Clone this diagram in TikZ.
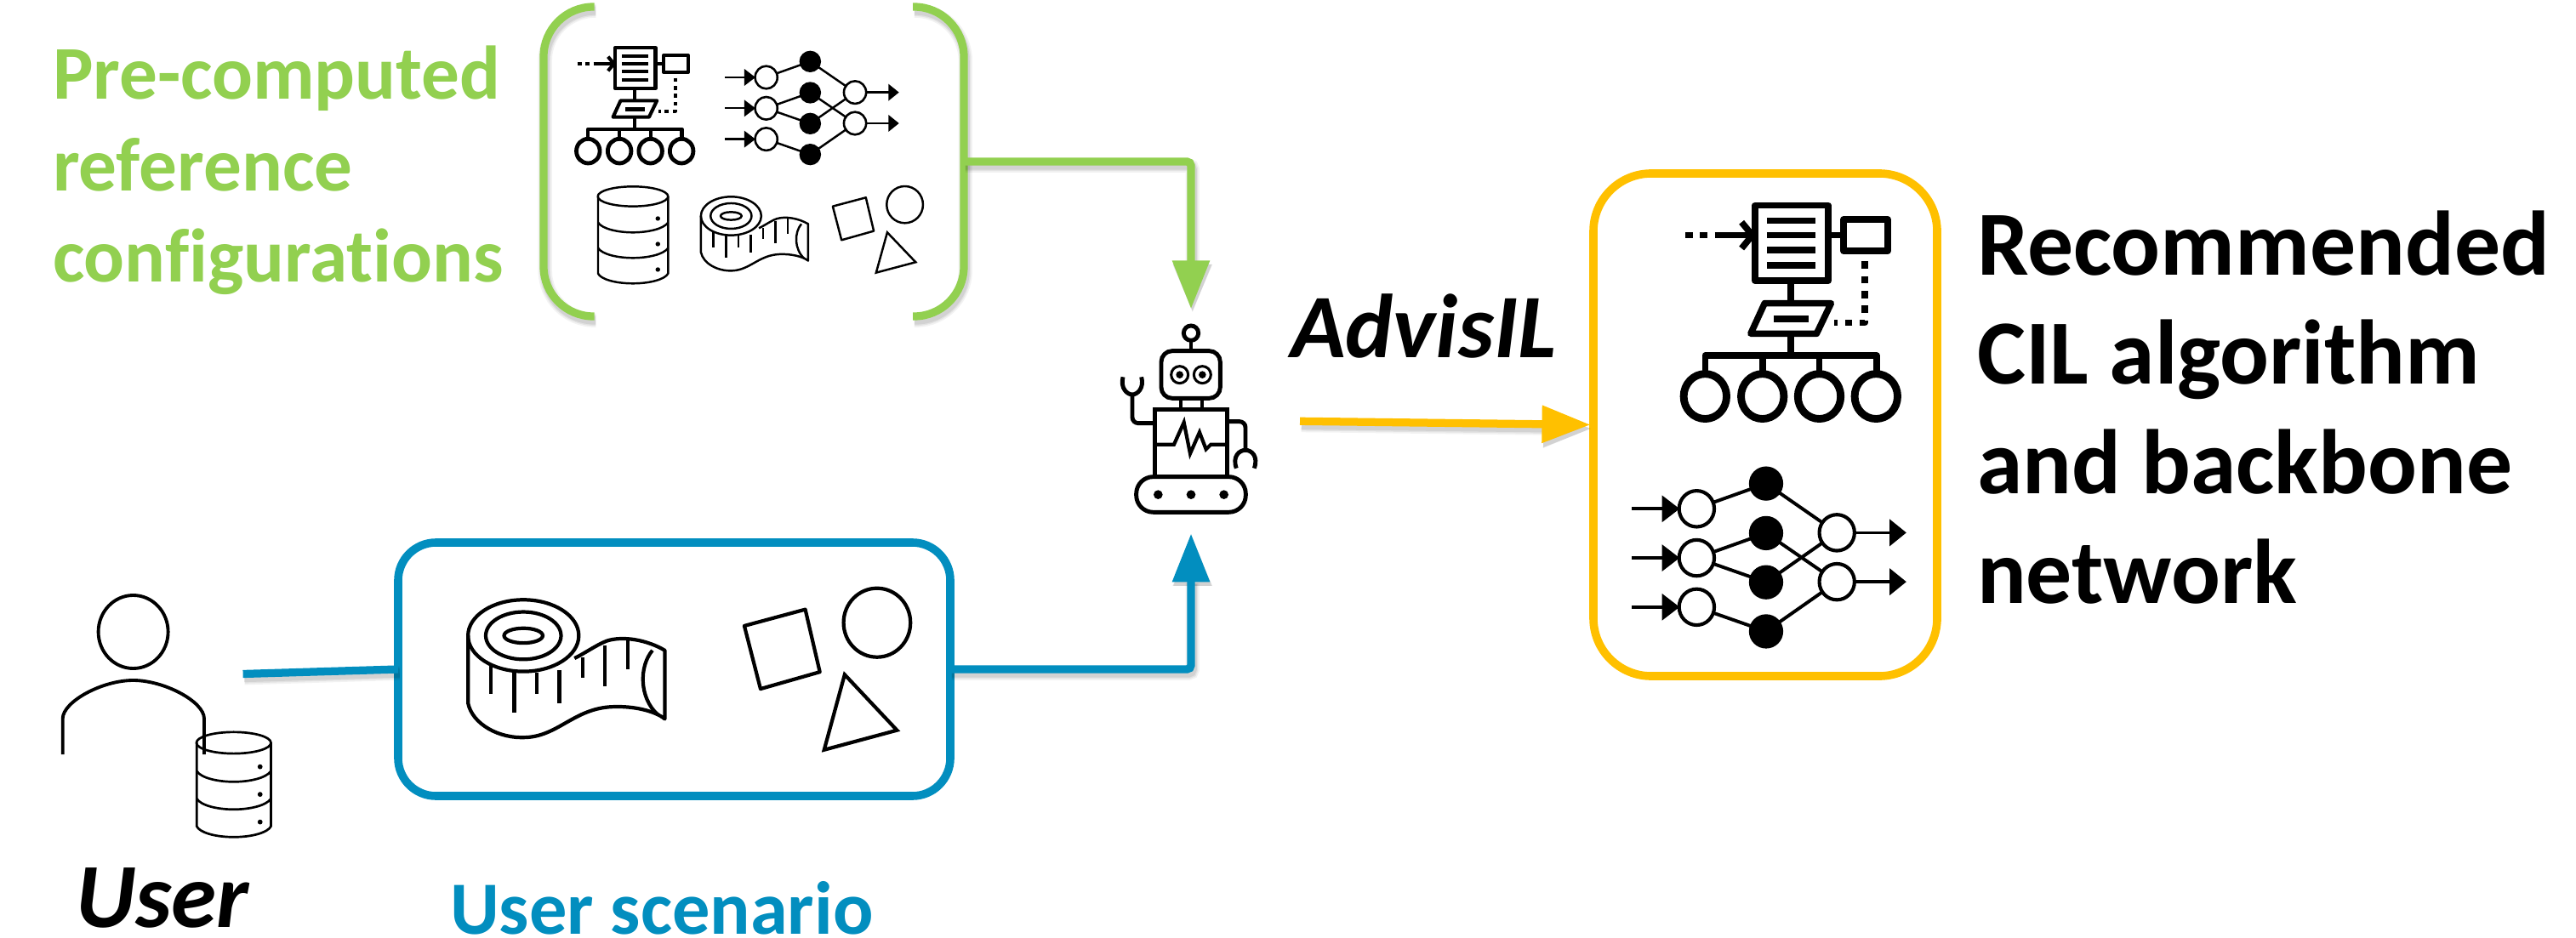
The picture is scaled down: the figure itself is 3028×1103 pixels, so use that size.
\documentclass[tikz,border=0pt]{standalone}
\usepackage{fontspec}
\setmainfont[Ligatures=NoCommon]{Carlito}
\usetikzlibrary{arrows.meta}
\definecolor{cgreen}{HTML}{92D050}
\definecolor{cblue}{HTML}{028EBF}
\definecolor{cyellow}{HTML}{FFC000}
\tikzset{
  softsh/.style={
    preaction={draw=black,opacity=.05,line width=14pt,transform canvas={xshift=1.5pt,yshift=-4pt}},
    preaction={draw=black,opacity=.06,line width=11pt,transform canvas={xshift=1.5pt,yshift=-4pt}},
    preaction={draw=black,opacity=.07,line width=8.5pt,transform canvas={xshift=1.5pt,yshift=-4pt}}},
  conn/.style={line width=7.9pt,softsh,rounded corners=4pt,
    -{Triangle[length=1.71cm,width=1.26cm]}},
  anchorbox/.style={inner sep=0pt,outer sep=0pt,rectangle},
  framebox/.style={anchorbox,draw,line width=8.2pt},
  lab/.style={inner sep=0pt,outer sep=0pt,anchor=base west,align=left},
  iconline/.style={line cap=butt,line join=round}
}
% tree icon, coordinates of a 1568 wide crop; #1 = line factor
\newcommand\treeicon[1]{
  \begin{scope}[iconline,line width=#1*3.5pt]
  \draw (300,168) rectangle (437,312);
  \foreach \yy in {197,225,253,282} \draw (322,\yy) -- (413,\yy);
  \draw (465,195) rectangle (548,255);
  \draw (437,225) -- (465,225);
  \draw (170,225) -- (185,225) (197,225) -- (212,225) (225,225) -- (295,225);
  \draw (275,200) -- (295,225) -- (275,250);
  \draw[dash pattern=on #1*4pt off #1*4pt] (505,275) -- (505,392) -- (448,392);
  \draw (367,312) -- (367,355);
  \draw (318,355) -- (442,355) -- (415,413) -- (292,413) -- cycle;
  \draw[line width=#1*4pt] (335,385) -- (400,385);
  \draw (367,413) -- (367,455);
  \draw (207,490) -- (207,455) -- (527,455) -- (527,490);
  \draw (314,455) -- (314,490) (420,455) -- (420,490);
  \begin{scope}[line width=#1*4.1pt]
  \foreach \xx in {207,314,420,526} \draw (\xx,533) ellipse [x radius=40,y radius=43];
  \end{scope}
  \end{scope}
}
\newcommand\neticon[1]{
  \begin{scope}[iconline,line width=#1*2.1pt]
  \draw (815,272) -- (965,217) -- (1118,326) (815,382) -- (965,327) -- (1118,435)
        (815,382) -- (965,436) -- (1118,326) (815,491) -- (965,545) -- (1118,435);
  \foreach \yy in {273,382,491} {
    \draw[line width=#1*2pt] (675,\yy) -- (742,\yy);
    \fill (740,\yy-30) -- (778,\yy) -- (740,\yy+30) -- cycle;
    \draw[fill=white,line width=#1*2.2pt] (815,\yy) ellipse [x radius=38,y radius=40];
  }
  \foreach \yy in {217,327,436,545} \fill (965,\yy) ellipse [x radius=37,y radius=38];
  \foreach \yy in {326,435} {
    \draw[line width=#1*2pt] (1150,\yy) -- (1234,\yy);
    \fill (1232,\yy-30) -- (1268,\yy) -- (1232,\yy+30) -- cycle;
    \draw[fill=white,line width=#1*2.2pt] (1118,\yy) ellipse [x radius=38,y radius=40];
  }
  \end{scope}
}
\newcommand\dbicon[1]{
  \begin{scope}[iconline,line width=#1]
  \draw (360,693) ellipse [x radius=120,y radius=35];
  \draw (241,693) -- (241,965) .. controls (250,985) and (300,1000) .. (360,1000)
        .. controls (420,1000) and (470,985) .. (480,965) -- (480,693);
  \draw (241,785) .. controls (255,808) and (310,820) .. (360,820) .. controls (410,820) and (465,808) .. (480,785);
  \draw (241,875) .. controls (255,898) and (310,910) .. (360,910) .. controls (410,910) and (465,898) .. (480,875);
  \foreach \yy in {771,861,951} \fill (445,\yy) ellipse [x radius=8,y radius=8];
  \end{scope}
}
\newcommand\tapeicon[1]{
  \begin{scope}[iconline,line width=#1]
  \draw (695,762) ellipse [x radius=103,y radius=68];
  \draw (695,762) ellipse [x radius=70,y radius=45];
  \draw (695,762) ellipse [x radius=36,y radius=14];
  \draw (592,762) -- (592,890) .. controls (600,930) and (650,958) .. (700,955)
     .. controls (760,952) and (790,900) .. (860,897) .. controls (900,895) and (940,905) .. (958,920)
     -- (958,790) .. controls (925,770) and (880,762) .. (850,772) .. controls (830,780) and (810,795) .. (790,805);
  \draw (935,790) .. controls (910,820) and (910,880) .. (945,912);
  \draw (635,815) -- (635,872) (678,828) -- (678,908) (720,832) -- (720,872) (762,828) -- (762,890)
        (805,803) -- (805,842) (847,780) -- (847,858) (889,770) -- (889,825);
  \end{scope}
}
\newcommand\shapeicon[1]{
  \begin{scope}[iconline,line width=#1]
  \draw (1042,728) -- (1155,697) -- (1182,815) -- (1072,847) -- cycle;
  \draw (1288,722) ellipse [x radius=62,y radius=65];
  \draw[line join=miter] (1228,820) -- (1325,925) -- (1190,962) -- cycle;
  \end{scope}
}
\begin{document}
\begin{tikzpicture}[x=0.03cm,y=-0.03cm]
\useasboundingbox (0,0) rectangle (3028,1103);
\fill[white] (0,0) rectangle (3028,1103);

% invisible and visible frames
\node[anchorbox,minimum width=14.82cm,minimum height=10.92cm] (greenbox) at (886,190) {};
\node[framebox,draw=cblue,rounded corners=38pt,minimum width=19.47cm,minimum height=8.94cm] (bluebox) at (792.5,787) {};
\node[framebox,draw=cyellow,rounded corners=58pt,minimum width=12.12cm,minimum height=17.73cm] (yellowbox) at (2075,499.5) {};
\node[anchorbox,minimum width=7.68cm,minimum height=7.92cm] (robot) at (1400,495.3) {};
\coordinate (userhand) at (285.6,792.5);

% green brackets
\draw[draw=cgreen,softsh,line width=7.9pt,rounded corners=50pt] (698.5,8) -- (639,8) -- (639,372) -- (698.5,372);
\draw[draw=cgreen,softsh,line width=7.9pt,rounded corners=50pt] (1073,8) -- (1133,8) -- (1133,372) -- (1073,372);

% connectors
\draw[conn,draw=cgreen] (greenbox.east) -| (robot.north);
\draw[line width=7.9pt,softsh,draw=cblue] (userhand) -- (bluebox.west);
\draw[conn,draw=cblue] (bluebox.east) -| (robot.south);
\draw[conn,draw=cyellow,shorten >=3pt] (robot.east) -- (yellowbox.west);

% icons in the green frame
\begin{scope}[shift={(620,0)},xscale=.3444,yscale=.3333]
\treeicon{1}\neticon{1}\dbicon{2.1pt}\tapeicon{2.1pt}\shapeicon{2.1pt}
\end{scope}
% icons in the yellow frame
\begin{scope}[shift={(1873.9,138.3)},xscale=.63,yscale=.615]
\treeicon{1.85}
\end{scope}
\begin{scope}[shift={(1551,453.6)},xscale=.544,yscale=.53]
\neticon{1.6}
\end{scope}
% icons in the blue frame
\begin{scope}[shift={(176,275)},xscale=.632,yscale=.62]
\tapeicon{3.6pt}
\end{scope}
\begin{scope}[shift={(214.3,282.4)},xscale=.634,yscale=.623]
\shapeicon{3.6pt}
\end{scope}
% user
\draw[line width=3.3pt] (156.6,743) ellipse [x radius=41,y radius=43];
\draw[line width=3.3pt] (73.7,887) -- (73.7,845) .. controls (74,825) and (120,800) .. (156.6,800)
   .. controls (193,800) and (240,825) .. (240,845) -- (240,887);
\begin{scope}[shift={(143.3,623.3)},xscale=.365,yscale=.361]
\dbicon{2.3pt}
\end{scope}
% robot
\begin{scope}[shift={(1270,340)},xscale=.3333,yscale=.3333,line width=4.2pt]
\draw (390,155) circle [radius=26];
\draw (390,181) -- (390,218);
\draw[rounded corners=11pt] (285,218) rectangle (493,385);
\foreach \xx in {350,430} {
  \draw[line width=2.6pt] (\xx,302) circle [radius=30];
  \fill (\xx,302) circle [radius=13];
}
\draw[line width=3.6pt] (355,385) -- (355,425) (428,385) -- (428,425);
\draw (262,425) rectangle (518,660);
\draw[line width=3.6pt,line join=miter] (268,548) -- (330,548) -- (365,470) -- (387,580) -- (420,505) -- (443,565) -- (460,548) -- (512,548);
\draw[rounded corners=17pt] (197,662) rectangle (583,787);
\foreach \xx in {274,390,506} \fill (\xx,725) circle [radius=16];
\draw[rounded corners=6pt] (258,473) -- (183,473) -- (183,375);
\draw (150,310) .. controls (140,350) and (165,372) .. (183,372) .. controls (200,372) and (226,350) .. (215,310);
\draw[rounded corners=6pt] (525,467) -- (582,467) -- (582,565);
\draw (550,632) .. controls (535,590) and (560,568) .. (582,568) .. controls (604,568) and (628,590) .. (613,632);
\end{scope}

% labels
\node[lab,text=cgreen,font=\fontsize{76.2}{91.8}\selectfont\bfseries] (reflabel) at (62,331.7)
  {Pre-computed\\reference\\configurations};
\node[lab,font=\fontsize{92}{109.7}\selectfont\bfseries] (reclabel) at (2324,709)
  {Recommended\\CIL algorithm\\and backbone\\network};
\node[lab,font=\fontsize{91}{100}\selectfont\bfseries\itshape] (advlabel) at (1517,420.7) {AdvisIL};
\node[lab,font=\fontsize{92}{100}\selectfont\bfseries\itshape] (userlabel) at (89,1090) {User};
\node[lab,text=cblue,font=\fontsize{75.5}{80}\selectfont\bfseries] (scenlabel) at (529,1098) {User scenario};
\end{tikzpicture}
\end{document}
